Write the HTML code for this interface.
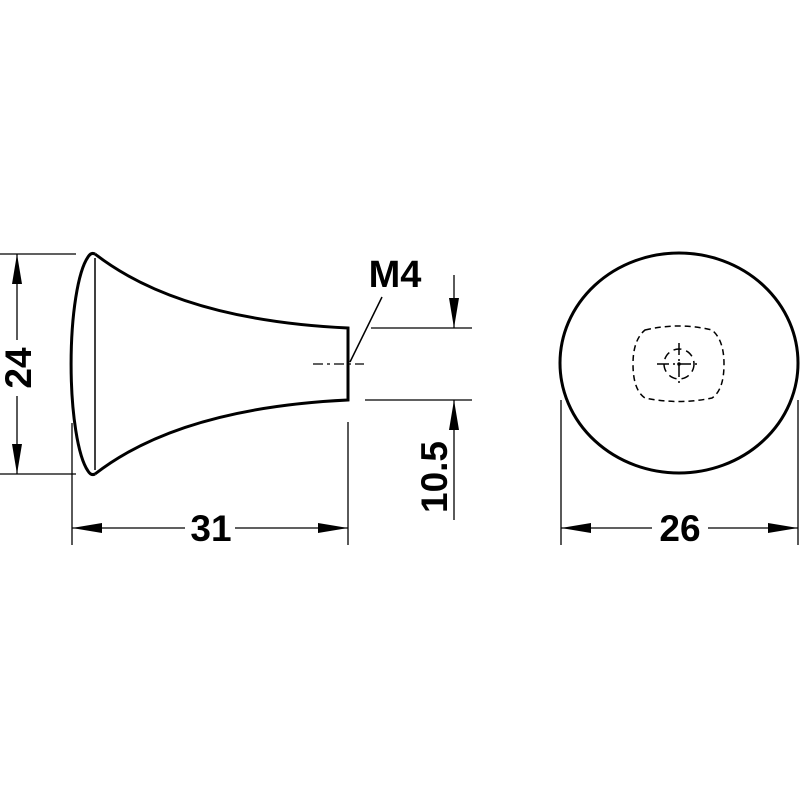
<!DOCTYPE html>
<html><head><meta charset="utf-8"><style>html,body{margin:0;padding:0;background:#fff}svg{display:block}</style></head>
<body>
<svg width="800" height="800" viewBox="0 0 800 800" xmlns="http://www.w3.org/2000/svg">
<defs>
<marker id="a" viewBox="0 0 30 10" refX="30" refY="5" markerWidth="30" markerHeight="10" markerUnits="userSpaceOnUse" orient="auto-start-reverse">
<path d="M0,0 L30,5 L0,10 Z" fill="#000"/></marker>
</defs>
<g fill="none" stroke="#000">
<!-- knob side view -->
<path d="M95,254 Q91,252 88,257 A24,112 0 0 0 88,471 Q91,476 95,474" stroke-width="3"/>
<path d="M95,254 Q180,320 348,328 L348,400 Q180,408 95,474" stroke-width="3"/>
<line x1="95" y1="258" x2="95" y2="470" stroke-width="1.5"/>
<line x1="313" y1="364" x2="364" y2="364" stroke-width="1.2" stroke-dasharray="10,4,3,4"/>
<line x1="350" y1="362" x2="382" y2="297" stroke-width="1.5"/>
<!-- 24 -->
<line x1="0" y1="254" x2="76" y2="254" stroke-width="1.3"/>
<line x1="0" y1="474" x2="76" y2="474" stroke-width="1.3"/>
<line x1="17" y1="340" x2="17" y2="254" stroke-width="1.3" marker-end="url(#a)"/>
<line x1="17" y1="396" x2="17" y2="474" stroke-width="1.3" marker-end="url(#a)"/>
<!-- 31 -->
<line x1="72" y1="423" x2="72" y2="545" stroke-width="1.3"/>
<line x1="348" y1="422" x2="348" y2="545" stroke-width="1.3"/>
<line x1="185" y1="528" x2="72" y2="528" stroke-width="1.3" marker-end="url(#a)"/>
<line x1="235" y1="528" x2="348" y2="528" stroke-width="1.3" marker-end="url(#a)"/>
<!-- 10.5 -->
<line x1="371" y1="328" x2="472" y2="328" stroke-width="1.3"/>
<line x1="365" y1="400" x2="472" y2="400" stroke-width="1.3"/>
<line x1="454" y1="275" x2="454" y2="328" stroke-width="1.3" marker-end="url(#a)"/>
<line x1="454" y1="520" x2="454" y2="400" stroke-width="1.3" marker-end="url(#a)"/>
<!-- front view -->
<ellipse cx="679" cy="363" rx="119" ry="110" stroke-width="3"/>
<path d="M645,330 Q679,322 712,330 Q724,340 724,364 Q724,390 712,398 Q679,405 645,398 Q633,390 633,364 Q633,340 645,330 Z" stroke-width="1.5" stroke-dasharray="6,4"/>
<circle cx="679" cy="364" r="15" stroke-width="1.5" stroke-dasharray="8,5"/>
<line x1="657" y1="364" x2="701" y2="364" stroke-width="1.5" stroke-dasharray="12,4,2,4"/>
<line x1="679" y1="343" x2="679" y2="386" stroke-width="1.5" stroke-dasharray="12,4,2,4"/>
<!-- 26 -->
<line x1="561" y1="400" x2="561" y2="545" stroke-width="1.3"/>
<line x1="798" y1="400" x2="798" y2="545" stroke-width="1.3"/>
<line x1="652" y1="528" x2="561" y2="528" stroke-width="1.3" marker-end="url(#a)"/>
<line x1="708" y1="528" x2="798" y2="528" stroke-width="1.3" marker-end="url(#a)"/>
</g>
<circle cx="679" cy="364" r="1.8" fill="#000"/>
<g font-family="Liberation Sans, sans-serif" font-weight="bold" font-size="37" fill="#000" text-anchor="middle">
<text x="395" y="287" font-size="38">M4</text>
<text x="211" y="541">31</text>
<text x="680" y="541">26</text>
<text transform="translate(31,368) rotate(-90)">24</text>
<text transform="translate(447,477) rotate(-90)">10.5</text>
</g>
</svg>
</body></html>
